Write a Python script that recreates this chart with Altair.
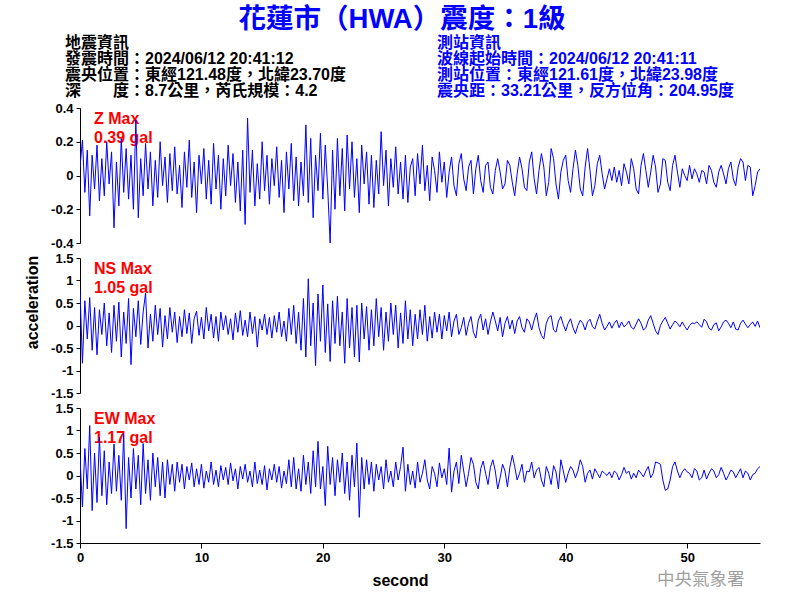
import altair as alt
import pandas as pd

DT = 0.2  # sampling step in seconds of the transcribed traces
X_MAX = 56.0

# Vertical (Z) component, gal
z_acc = (
    [0.05, 0.21, -0.10, 0.15, -0.24, 0.12, -0.08, 0.18, -0.15, 0.10]
    + [-0.12, 0.20, -0.05, 0.14, -0.31, 0.08, -0.18, 0.22, -0.10, 0.16]
    + [-0.14, 0.12, -0.20, 0.33, -0.25, 0.10, -0.12, 0.19, -0.08, 0.14]
    + [-0.18, 0.09, -0.13, 0.20, -0.06, 0.11, -0.16, 0.13, -0.09, 0.17]
    + [-0.11, 0.06, -0.19, 0.14, -0.07, 0.21, -0.13, 0.08, -0.22, 0.12]
    + [-0.05, 0.16, -0.14, 0.09, -0.17, 0.19, -0.08, 0.12, -0.20, 0.10]
    + [-0.12, 0.18, -0.06, 0.13, -0.16, 0.08, -0.21, 0.15, -0.29, 0.34]
    + [-0.10, 0.15, -0.18, 0.07, -0.14, 0.20, -0.09, 0.12, -0.17, 0.10]
    + [-0.06, 0.17, -0.13, 0.09, -0.22, 0.14, -0.08, 0.19, -0.15, 0.11]
    + [-0.18, 0.08, -0.12, 0.30, -0.16, 0.22, -0.25, 0.12, -0.09, 0.25]
    + [-0.14, 0.18, -0.08, -0.40, 0.15, -0.20, 0.22, -0.12, 0.16, -0.21]
    + [0.24, -0.08, 0.20, -0.13, 0.10, -0.22, 0.18, -0.05, 0.14, -0.17]
    + [0.12, -0.19, 0.09, -0.11, 0.26, -0.06, 0.15, -0.18, 0.10, -0.07]
    + [0.17, -0.11, 0.08, -0.14, 0.12, -0.16, 0.05, 0.10, -0.12, 0.13]
    + [-0.05, 0.18, -0.09, 0.06, -0.15, 0.11, 0.03, -0.10, 0.14, -0.04]
    + [0.08, -0.13, 0.02, 0.11, -0.06, -0.12, 0.07, 0.13, -0.02, -0.09]
    + [0.05, 0.09, -0.11, 0.04, 0.12, -0.03, -0.10, 0.06, 0.08, -0.07]
    + [-0.11, 0.03, 0.10, 0.02, -0.08, -0.05, 0.09, 0.06, -0.04, -0.12]
    + [0.01, 0.11, 0.04, -0.07, -0.09, 0.08, 0.14, -0.02, -0.11, 0.03]
    + [0.13, 0.05, -0.12, -0.04, 0.16, 0.10, -0.05, -0.14, 0.02, 0.09]
    + [0.12, -0.03, -0.10, 0.04, 0.15, 0.06, -0.08, -0.12, 0.05, 0.16]
    + [0.03, -0.12, -0.06, 0.07, 0.12, 0.01, -0.08, -0.02, 0.04, -0.03]
    + [0.05, -0.04, 0.03, -0.06, 0.07, 0.02, -0.05, 0.10, 0.04, -0.08]
    + [-0.11, 0.06, 0.13, 0.03, -0.07, 0.02, 0.12, 0.05, -0.10, -0.05]
    + [0.10, 0.09, -0.04, -0.09, 0.06, 0.12, 0.02, -0.07, 0.04, 0.00]
    + [-0.03, 0.06, -0.02, 0.04, 0.01, -0.04, 0.03, 0.02, -0.05, 0.06]
    + [0.03, -0.04, -0.07, 0.02, 0.06, 0.01, -0.05, 0.04, 0.08, -0.02]
    + [-0.06, 0.05, 0.10, 0.08, -0.03, 0.06, 0.05, -0.12, -0.06, 0.02]
    + [0.04]
)

# North-south component, gal
ns_acc = (
    [0.80, -0.84, 0.55, -0.30, 0.62, -0.55, 0.40, -0.65, 0.35, -0.20]
    + [0.50, -0.45, 0.28, -0.60, 0.45, -0.35, 0.52, -0.70, 0.30, -0.40]
    + [0.60, -0.87, 0.38, -0.25, 0.55, -0.42, 0.30, 0.72, -0.50, 0.25]
    + [-0.35, 0.45, -0.20, 0.38, -0.48, 0.22, -0.30, 0.40, -0.15, 0.30]
    + [-0.38, 0.20, -0.25, 0.35, -0.18, 0.28, -0.40, 0.15, 0.32, -0.22]
    + [0.18, -0.30, 0.40, -0.12, 0.25, -0.28, 0.20, -0.35, 0.30, -0.10]
    + [0.22, -0.20, 0.15, -0.32, 0.28, -0.15, 0.33, -0.22, 0.12, -0.25]
    + [0.30, -0.18, 0.20, -0.48, 0.15, -0.10, 0.25, -0.20, 0.18, -0.28]
    + [0.22, -0.15, 0.30, -0.25, 0.10, -0.35, 0.38, -0.20, 0.45, -0.40]
    + [0.30, -0.55, 0.60, -0.70, 1.04, -0.45, 0.50, -0.89, 0.70, -0.35]
    + [0.90, -0.60, 0.48, -0.80, 0.55, -0.40, 0.65, -0.45, 0.30, -0.84]
    + [0.60, -0.50, 0.40, -0.70, 0.45, -0.81, 0.50, -0.30, 0.42, -0.55]
    + [0.35, -0.45, 0.60, -0.25, 0.40, -0.55, 0.30, -0.35, 0.50, -0.20]
    + [0.45, -0.50, 0.28, -0.40, 0.55, -0.30, 0.35, -0.45, 0.25, -0.30]
    + [0.35, -0.20, 0.45, -0.35, 0.20, -0.28, 0.30, -0.15, 0.25, -0.30]
    + [0.22, -0.12, 0.30, -0.25, 0.10, 0.25, -0.20, -0.05, 0.18, -0.22]
    + [0.05, 0.20, -0.15, -0.28, 0.12, 0.25, -0.10, 0.15, -0.20, 0.08]
    + [0.30, 0.10, -0.12, 0.18, -0.25, 0.05, 0.20, -0.08, 0.12, -0.18]
    + [0.10, 0.20, -0.05, -0.15, 0.15, 0.08, -0.10, 0.12, 0.28, -0.05]
    + [-0.22, -0.30, 0.05, 0.18, 0.22, -0.10, -0.15, 0.10, 0.20, 0.02]
    + [-0.12, 0.05, 0.15, -0.05, -0.18, 0.00, 0.12, 0.05, -0.10, 0.08]
    + [0.14, -0.02, -0.08, 0.10, 0.25, 0.05, -0.10, -0.02, 0.08, -0.06]
    + [0.05, 0.12, -0.05, 0.08, -0.03, 0.02, 0.10, -0.04, -0.08, 0.03]
    + [0.15, 0.05, -0.10, -0.05, 0.12, 0.22, 0.05, -0.12, -0.20, 0.00]
    + [0.10, 0.18, 0.05, -0.08, 0.02, 0.10, 0.05, -0.03, 0.08, -0.02]
    + [-0.10, 0.00, 0.06, 0.04, 0.08, 0.02, -0.04, 0.14, 0.08, -0.06]
    + [-0.10, 0.02, 0.06, -0.12, -0.03, 0.08, 0.12, 0.05, -0.05, 0.08]
    + [-0.08, -0.10, 0.05, 0.12, 0.03, -0.05, 0.02, 0.08, -0.02, 0.10]
    + [-0.05]
)

# East-west component, gal
ew_acc = (
    [0.40, -0.70, 0.60, -0.30, 1.11, -0.78, 0.50, -0.60, 0.85, -0.45]
    + [0.55, -0.65, 0.30, -0.40, 0.70, -0.35, 0.45, -0.55, 0.93, -1.18]
    + [0.40, -0.50, 0.60, -0.30, 0.45, -0.65, 0.71, -0.40, 0.35, -0.55]
    + [0.50, -0.25, 0.40, -0.45, 0.30, -0.50, 0.35, -0.20, 0.25, -0.35]
    + [0.30, -0.15, 0.25, -0.30, 0.20, -0.10, 0.28, -0.25, 0.15, -0.20]
    + [0.25, -0.28, 0.10, -0.15, 0.30, -0.20, 0.12, -0.25, 0.22, -0.10]
    + [0.18, -0.20, 0.28, -0.12, 0.15, -0.30, 0.20, -0.08, 0.25, -0.15]
    + [0.10, -0.25, 0.30, -0.18, 0.12, -0.20, 0.22, -0.32, 0.15, -0.10]
    + [0.25, -0.15, 0.20, -0.28, 0.10, -0.18, 0.35, -0.25, 0.40, -0.30]
    + [0.15, -0.35, 0.45, -0.20, 0.30, -0.40, 0.55, -0.25, 0.76, -0.30]
    + [0.20, -0.67, 0.65, -0.20, 0.40, -0.45, 0.35, -0.15, 0.50, -0.40]
    + [0.30, -0.55, 0.45, -0.25, 0.72, -0.93, 0.40, -0.30, 0.35, -0.20]
    + [0.30, -0.35, 0.25, -0.10, 0.20, -0.30, 0.35, -0.15, 0.10, -0.25]
    + [0.30, -0.10, 0.20, 0.63, -0.35, 0.25, -0.20, 0.10, -0.28, 0.30]
    + [-0.15, 0.05, 0.35, -0.10, -0.30, 0.20, 0.05, -0.25, 0.28, -0.05]
    + [0.15, -0.20, 0.61, -0.37, 0.10, 0.30, -0.18, 0.45, 0.10, -0.25]
    + [0.05, 0.40, 0.25, -0.15, -0.30, 0.15, 0.32, 0.05, -0.20, 0.18]
    + [0.35, 0.10, -0.30, -0.05, 0.25, 0.10, -0.25, 0.18, 0.45, 0.20]
    + [-0.10, 0.05, 0.25, -0.15, 0.10, 0.08, 0.30, -0.05, 0.12, 0.18]
    + [-0.10, -0.25, 0.20, 0.05, -0.20, 0.22, 0.08, -0.30, 0.35, 0.10]
    + [-0.15, 0.05, 0.20, 0.12, -0.05, 0.10, 0.35, 0.20, -0.15, 0.05]
    + [0.12, -0.08, 0.15, 0.05, -0.05, 0.10, 0.05, 0.00, 0.08, -0.05]
    + [0.10, 0.05, -0.10, 0.02, 0.18, 0.05, 0.10, -0.08, 0.05, -0.05]
    + [0.12, 0.05, -0.03, 0.10, 0.20, -0.05, 0.05, 0.30, 0.28, 0.25]
    + [-0.10, -0.33, -0.30, -0.10, 0.20, 0.30, 0.10, -0.05, 0.08, 0.15]
    + [0.08, 0.05, -0.05, 0.15, 0.10, -0.10, -0.05, 0.12, -0.08, 0.05]
    + [0.15, 0.10, -0.05, 0.02, 0.18, 0.05, -0.10, 0.00, 0.12, 0.08]
    + [-0.05, 0.05, 0.15, -0.05, 0.10, 0.05, -0.10, 0.02, 0.05, 0.15]
    + [0.20]
)

x_ticks = [0, 10, 20, 30, 40, 50]
z_ticks = [-0.4, -0.2, 0, 0.2, 0.4]
h_ticks = [-1.5, -1, -0.5, 0, 0.5, 1, 1.5]

title_text = "花蓮市（HWA）震度：1級"
left_lines = [
    "地震資訊",
    "發震時間：2024/06/12 20:41:12",
    "震央位置：東經121.48度，北緯23.70度",
    "深　　度：8.7公里，芮氏規模：4.2",
]
right_lines = [
    "測站資訊",
    "波線起始時間：2024/06/12 20:41:11",
    "測站位置：東經121.61度，北緯23.98度",
    "震央距：33.21公里，反方位角：204.95度",
]
peak_labels = [("Z Max", "0.39 gal"), ("NS Max", "1.05 gal"), ("EW Max", "1.17 gal")]
watermark = "中央氣象署"

FONT = "Liberation Sans, Arial, Noto Sans CJK TC, sans-serif"
CJK_FONT = "Noto Sans CJK TC, sans-serif"
BLUE = "#0000ff"
RED = "#ff0000"
W, H = 680, 135

dummy = pd.DataFrame({"k": [0]})


def txt(text, x, y, size, color, weight="normal", align="center", font=FONT):
    return (
        alt.Chart(dummy)
        .mark_text(text=text, align=align, baseline="middle", fontSize=size,
                   fontWeight=weight, color=color, font=font)
        .encode(x=alt.value(x), y=alt.value(y))
    )


def panel(vals, dom, ticks, labels, bottom=False, ytitle=None, extras=()):
    df = pd.DataFrame({"second": [round(i * DT, 1) for i in range(len(vals))],
                       "acc": vals})
    if bottom:
        xaxis = alt.Axis(values=x_ticks, title="second", labelFlush=False,
                         tickSize=5, labelPadding=3, titleX=320, titleY=37,
                         titleAlign="center", titleBaseline="middle",
                         titleFontSize=16, titleFontWeight="bold")
    else:
        xaxis = None
    ykw = dict(values=ticks, labelExpr="'' + datum.value", tickSize=4,
               labelPadding=3)
    if ytitle:
        ykw.update(title=ytitle, titleX=-48, titleY=44, titleAngle=270,
                   titleAlign="center", titleBaseline="middle",
                   titleFontSize=16, titleFontWeight="bold")
    else:
        ykw.update(title=None)
    line = (
        alt.Chart(df)
        .mark_line(color=BLUE, strokeWidth=1, clip=True)
        .encode(
            x=alt.X("second:Q", scale=alt.Scale(domain=[0, X_MAX], nice=False, zero=False),
                    axis=xaxis),
            y=alt.Y("acc:Q", scale=alt.Scale(domain=dom, nice=False, zero=False),
                    axis=alt.Axis(**ykw)),
        )
    )
    lab1 = txt(labels[0], 14, 10.5, 16, RED, "bold", "left")
    lab2 = txt(labels[1], 14, 29.5, 16, RED, "bold", "left")
    return alt.layer(*extras, lab1, lab2, line).properties(width=W, height=H)


header = [txt(title_text, 322, -88, 27.5, BLUE, "bold")]
for i, s in enumerate(left_lines):
    header.append(txt(s, -15, -65 + 16 * i, 16, "black", "bold", "left"))
for i, s in enumerate(right_lines):
    header.append(txt(s, 357, -65 + 16 * i, 16, BLUE, "bold", "left"))

z_chart = panel(z_acc, [-0.4, 0.4], z_ticks, peak_labels[0], extras=header)
ns_chart = panel(ns_acc, [-1.5, 1.5], h_ticks, peak_labels[1], ytitle="acceleration")
ew_chart = panel(ew_acc, [-1.5, 1.5], h_ticks, peak_labels[2], bottom=True,
                 extras=[txt(watermark, 577, 172, 17.5, "#a0a0a0", "normal", "left",
                             CJK_FONT)])

chart = (
    alt.vconcat(z_chart, ns_chart, ew_chart, spacing=15, bounds="flush")
    .properties(
        autosize=alt.AutoSizeParams(type="none"),
        padding={"left": 80, "top": 108, "right": 40, "bottom": 492},
        background="white",
    )
    .configure_view(stroke=None)
    .configure_axis(
        grid=False, domainColor="black", tickColor="black", labelColor="black",
        titleColor="black", labelFont=FONT, titleFont=FONT, labelFontSize=13,
        labelFontWeight="bold", domainWidth=1, tickWidth=1,
    )
)

chart.save("out.html", embed_options={"renderer": "svg", "actions": False})
